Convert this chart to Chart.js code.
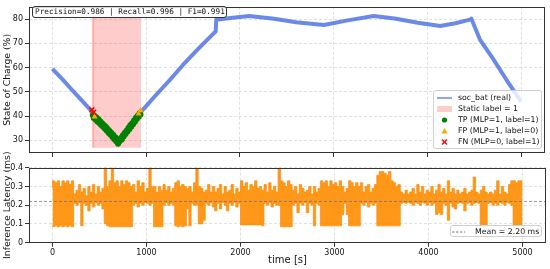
<!DOCTYPE html>
<html><head><meta charset="utf-8">
<script src="https://cdn.jsdelivr.net/npm/chart.js@4.4.1/dist/chart.umd.min.js"></script>
<style>
html,body{margin:0;padding:0;background:#fff}
body{width:550px;height:269px;overflow:hidden;position:relative;font-family:"DejaVu Sans",sans-serif}
canvas{position:absolute;left:0}
#c1{top:0}
#c2{top:135px}
.box{position:absolute;background:rgba(255,255,255,0.8);color:#111;box-sizing:border-box}
.row{position:absolute;left:0;height:10px;line-height:10px;white-space:nowrap}
.row svg{position:absolute;top:1px}
.row span{position:absolute}
</style></head>
<body>
<canvas id="c1" width="550" height="160"></canvas>
<canvas id="c2" width="550" height="134"></canvas>

<div class="box" id="metrics" style="left:32px;top:6px;width:195px;height:12px;border:1px solid #333;border-radius:3px;font:7.7px 'DejaVu Sans Mono',monospace;line-height:10px;padding-left:2px"></div>

<div class="box" id="legTop" style="left:433px;top:90px;width:109px;height:59px;border:1px solid #d0d0d0;border-radius:3px;font-size:7.8px"></div>

<div class="box" id="legBot" style="left:450px;top:225px;width:92px;height:12px;border:1px solid #d0d0d0;border-radius:3px;font-size:7.8px"></div>

<script>
// ---------------- data ----------------
const xTicks = [0, 1000, 2000, 3000, 4000, 5000];
const socTicks = [30, 40, 50, 60, 70, 80];
const latTicks = [0, 0.1, 0.2, 0.3, 0.4];

const socTime  = [0, 100, 200, 300, 420, 560, 700, 830, 950, 1100, 1250, 1390, 1550, 1742, 1748, 1900, 2100, 2365, 2600, 2896, 3150, 3427, 3650, 3900, 4136, 4300, 4455, 4470, 4561, 4702, 4844, 5000];
const socValue = [59.5, 55.5, 51.2, 47, 42, 35.8, 29, 35.5, 42, 48.5, 54.8, 61, 67.5, 75, 79.8, 80.5, 81.3, 80.2, 78.7, 77.6, 79.5, 81.3, 80.3, 78.5, 77.2, 78.3, 79.8, 80.2, 71.6, 63.6, 55, 46];

const staticStart = 417, staticEnd = 948, staticLow = 27, staticHigh = 81;
const stripeStart = 428, stripeEnd = 448;

const tpTime  = [430,440,450,460,470,480,490,500,510,520,530,540,550,560,570,580,590,600,610,620,630,640,650,660,670,680,690,700,710,720,730,740,750,760,770,780,790,800,810,820,830,840,850,860,870,880,890,900,910,920,930,940];
const tpValue = [40.5,39.2,40.0,38.6,39.4,37.8,38.7,37.2,37.9,36.3,37.1,35.6,36.4,34.8,35.6,34.0,34.7,33.1,33.9,32.3,33.0,31.4,32.2,30.5,31.3,29.6,30.3,28.6,29.4,29.9,31.0,30.4,32.0,31.6,33.1,32.6,34.0,33.7,35.1,34.6,36.2,35.6,37.1,36.7,38.2,37.7,39.3,38.8,40.2,39.8,41.2,40.7];
const fpTime  = [450, 920, 940];
const fpValue = [39.8, 41.0, 42.3];
const fnTime  = [420, 440];
const fnValue = [42.6, 41.6];

const latBin = 25; // seconds per bin
const latLow = [
.09,.085,.09,.085,.09,.085,.09,.085,.09,.085,
.21,.20,.215,.09,.21,.20,.17,.21,.19,.215,
.20,.21,.18,.10,.09,.085,.085,.085,.085,.085,
.085,.085,.085,.085,.085,.20,.21,.19,.21,.20,
.215,.21,.20,.21,.085,.085,.085,.085,.20,.215,
.20,.21,.20,.09,.085,.09,.085,.09,.18,.09,
.21,.20,.20,.10,.10,.12,.21,.20,.215,.19,
.17,.21,.18,.215,.20,.17,.21,.20,.215,.19,
.21,.095,.095,.095,.095,.095,.095,.095,.095,.095,
.09,.21,.20,.215,.19,.21,.20,.20,.085,.085,
.085,.085,.085,.20,.21,.16,.21,.20,.215,.16,
.21,.20,.09,.21,.20,.09,.09,.09,.09,.09,
.09,.09,.09,.09,.15,.21,.15,.09,.09,.09,
.09,.09,.21,.20,.215,.19,.21,.20,.21,.09,
.09,.09,.09,.09,.09,.09,.09,.09,.09,.21,
.215,.21,.215,.21,.20,.215,.21,.20,.215,.21,
.20,.215,.20,.21,.15,.16,.15,.21,.20,.12,
.21,.19,.18,.21,.215,.21,.17,.21,.215,.20,
.21,.215,.21,.09,.09,.09,.21,.215,.20,.21,
.20,.215,.21,.20,.215,.21,.20,.09,.09,.09];
const latHigh = [
.29,.33,.32,.33,.30,.33,.32,.33,.31,.33,
.26,.28,.31,.27,.29,.25,.30,.27,.31,.26,
.30,.27,.29,.40,.30,.33,.40,.32,.33,.30,
.33,.31,.33,.32,.30,.31,.27,.33,.30,.32,
.27,.29,.40,.30,.30,.27,.30,.28,.31,.28,
.30,.27,.29,.32,.33,.30,.31,.30,.29,.30,
.27,.32,.40,.30,.29,.27,.28,.31,.27,.30,
.27,.29,.31,.26,.30,.27,.28,.31,.26,.29,
.27,.33,.30,.32,.28,.31,.30,.33,.29,.30,
.28,.31,.27,.32,.28,.30,.27,.40,.33,.32,
.30,.33,.31,.28,.30,.26,.31,.29,.27,.28,
.30,.26,.30,.27,.29,.33,.32,.33,.30,.33,
.31,.32,.30,.33,.30,.27,.29,.33,.32,.30,
.32,.30,.32,.27,.30,.31,.27,.29,.31,.36,
.38,.38,.37,.36,.38,.33,.32,.30,.31,.27,
.26,.28,.26,.27,.29,.26,.31,.27,.30,.26,
.28,.27,.30,.26,.28,.31,.27,.29,.26,.33,
.27,.29,.26,.28,.26,.27,.29,.26,.27,.28,
.35,.27,.26,.28,.30,.27,.26,.27,.26,.28,
.33,.26,.30,.27,.26,.31,.33,.33,.32,.33];
const meanLatency = 0.22;

const metricsText = 'Precision=0.986 | Recall=0.996 | F1=0.991';
const socLabel = 'soc_bat (real)', staticLabel = 'Static label = 1';
const tpLabel = 'TP (MLP=1, label=1)', fpLabel = 'FP (MLP=1, label=0)', fnLabel = 'FN (MLP=0, label=1)';
const meanLabel = 'Mean = 2.20 ms';

// ---------------- styles ----------------
const C_SOC = 'rgba(65,105,225,0.78)';
const C_STATIC = 'rgba(255,0,0,0.2)';
const C_TP = '#008000', C_FP = '#ffa500', C_FN = '#ff0000';
const C_LAT = 'rgba(255,140,0,0.9)';
const GRID = 'rgba(170,170,170,0.35)';
const FONT = 'DejaVu Sans';

const zip = (xs, ys) => xs.map((x, i) => ({x, y: ys[i]}));

const framePlugin = {
  id: 'frame',
  afterDatasetsDraw(chart) {
    const a = chart.chartArea, ctx = chart.ctx;
    ctx.save();
    ctx.strokeStyle = '#333'; ctx.lineWidth = 1;
    ctx.strokeRect(Math.round(a.left) + 0.5, Math.round(a.top) + 0.5, Math.round(a.right - a.left) - 1, Math.round(a.bottom - a.top) - 1);
    ctx.restore();
  }
};

function xScale(showLabels, h) {
  return {
    type: 'linear', min: -250, max: 5250,
    afterBuildTicks: s => { s.ticks = xTicks.map(v => ({value: v})); },
    afterFit: s => { s.height = h; },
    ticks: {display: showLabels, color: '#111', font: {family: FONT, size: 8}, padding: 1, maxRotation: 0, autoSkip: false, callback: v => String(v)},
    grid: {color: GRID, drawTicks: true, tickLength: 4, tickColor: '#333', tickWidth: 1, tickBorderDash: []},
    border: {display: false, dash: [3, 2]},
    title: showLabels ? {display: true, text: 'time [s]', color: '#111', font: {family: FONT, size: 10}, padding: {top: 0, bottom: 3}} : {display: false}
  };
}
function yScale(min, max, ticks, title, fmt) {
  return {
    min, max,
    afterBuildTicks: s => { s.ticks = ticks.map(v => ({value: v})); },
    afterFit: s => { s.width = 29; },
    ticks: {color: '#111', font: {family: FONT, size: 8}, padding: 2, callback: fmt},
    grid: {color: GRID, drawTicks: true, tickLength: 4, tickColor: '#333', tickWidth: 1, tickBorderDash: []},
    border: {display: false, dash: [3, 2]},
    title: {display: true, text: title, color: '#111', font: {family: FONT, size: 9.3}, padding: {top: 2.5, bottom: 0}}
  };
}
const common = {
  responsive: false, animation: false, events: [],
  plugins: {legend: {display: false}, tooltip: {enabled: false}}
};

// ---------------- top chart ----------------
new Chart(document.getElementById('c1'), {
  type: 'line',
  data: {datasets: [
    {data: [{x: staticStart, y: staticLow}, {x: staticEnd, y: staticLow}], borderWidth: 0, pointRadius: 0, fill: false, order: 20},
    {data: [{x: staticStart, y: staticHigh}, {x: staticEnd, y: staticHigh}], borderWidth: 0, pointRadius: 0, fill: '-1', backgroundColor: C_STATIC, order: 19},
    {data: [{x: stripeStart, y: staticLow}, {x: stripeEnd, y: staticLow}], borderWidth: 0, pointRadius: 0, fill: false, order: 18},
    {data: [{x: stripeStart, y: staticHigh}, {x: stripeEnd, y: staticHigh}], borderWidth: 0, pointRadius: 0, fill: '-1', backgroundColor: 'rgba(255,60,60,0.25)', order: 17},
    {data: zip(socTime, socValue), borderColor: C_SOC, borderWidth: 4, pointRadius: 0, tension: 0, borderJoinStyle: 'round', order: 10},
    {data: zip(tpTime, tpValue), showLine: false, pointRadius: 3, pointBorderWidth: 0, pointBackgroundColor: C_TP, order: 3},
    {data: zip(fpTime, fpValue), showLine: false, pointStyle: 'triangle', pointRadius: 3.5, pointBorderWidth: 0, pointBackgroundColor: C_FP, order: 2},
    {data: zip(fnTime, fnValue), showLine: false, pointStyle: 'crossRot', pointRadius: 3.5, pointBorderWidth: 1.5, pointBorderColor: C_FN, order: 1}
  ]},
  options: Object.assign({}, common, {
    layout: {padding: {left: 0, right: 4, top: 3, bottom: 0}},
    scales: {x: xScale(false, 7), y: yScale(24.8, 85.1, socTicks, 'State of Charge (%)', v => String(v))}
  }),
  plugins: [framePlugin]
});

// ---------------- bottom chart ----------------
const lowPts = latLow.map((v, i) => ({x: i * latBin, y: v}));
const highPts = latHigh.map((v, i) => ({x: i * latBin, y: v}));
lowPts.push({x: latLow.length * latBin, y: latLow[latLow.length - 1]});
highPts.push({x: latHigh.length * latBin, y: latHigh[latHigh.length - 1]});
new Chart(document.getElementById('c2'), {
  type: 'line',
  data: {datasets: [
    {data: [{x: -250, y: meanLatency}, {x: 5250, y: meanLatency}], borderColor: 'rgba(110,110,110,0.9)', borderWidth: 0.8, borderDash: [3, 2], pointRadius: 0, order: 1},
    {data: lowPts, stepped: 'after', borderColor: C_LAT, borderWidth: 0.8, pointRadius: 0, fill: false, order: 6},
    {data: highPts, stepped: 'after', borderColor: C_LAT, borderWidth: 0.8, pointRadius: 0, fill: '-1', backgroundColor: C_LAT, order: 5}
  ]},
  options: Object.assign({}, common, {
    layout: {padding: {left: 0, right: 4, top: 32.7, bottom: 0}},
    scales: {x: xScale(true, 26.3), y: yScale(0, 0.4, latTicks, 'Inference Latency (ms)', v => v === 0 ? '0' : v.toFixed(1))}
  }),
  plugins: [framePlugin]
});

// ---------------- HTML legends / annotations ----------------
document.getElementById('metrics').textContent = metricsText;

const legTop = document.getElementById('legTop');
const rows = [
  {label: socLabel, svg: `<line x1="0" y1="4" x2="15" y2="4" stroke="${C_SOC}" stroke-width="1.5"/>`},
  {label: staticLabel, svg: `<rect x="0" y="1" width="15" height="6" fill="${C_STATIC}"/>`},
  {label: tpLabel, svg: `<circle cx="7.5" cy="4" r="2.6" fill="${C_TP}"/>`},
  {label: fpLabel, svg: `<polygon points="7.5,1 10.5,6.5 4.5,6.5" fill="${C_FP}"/>`},
  {label: fnLabel, svg: `<path d="M5,1.5 L10,6.5 M10,1.5 L5,6.5" stroke="${C_FN}" stroke-width="1.5"/>`}
];
const rowTops = [1.5, 13, 24, 35, 46];
rows.forEach((r, i) => {
  const d = document.createElement('div');
  d.className = 'row';
  d.style.top = rowTops[i] + 'px';
  d.style.width = '105px';
  d.innerHTML = `<svg width="16" height="8" style="left:3px">${r.svg}</svg><span style="left:24px">${r.label}</span>`;
  legTop.appendChild(d);
});

const legBot = document.getElementById('legBot');
const rb = document.createElement('div');
rb.className = 'row';
rb.style.top = '0.5px';
rb.style.width = '90px';
rb.innerHTML = `<svg width="16" height="8" style="left:1px"><line x1="0" y1="4" x2="13" y2="4" stroke="rgba(110,110,110,0.9)" stroke-width="1" stroke-dasharray="2.5,1.5"/></svg><span style="left:24px">${meanLabel}</span>`;
legBot.appendChild(rb);
</script>
</body></html>
